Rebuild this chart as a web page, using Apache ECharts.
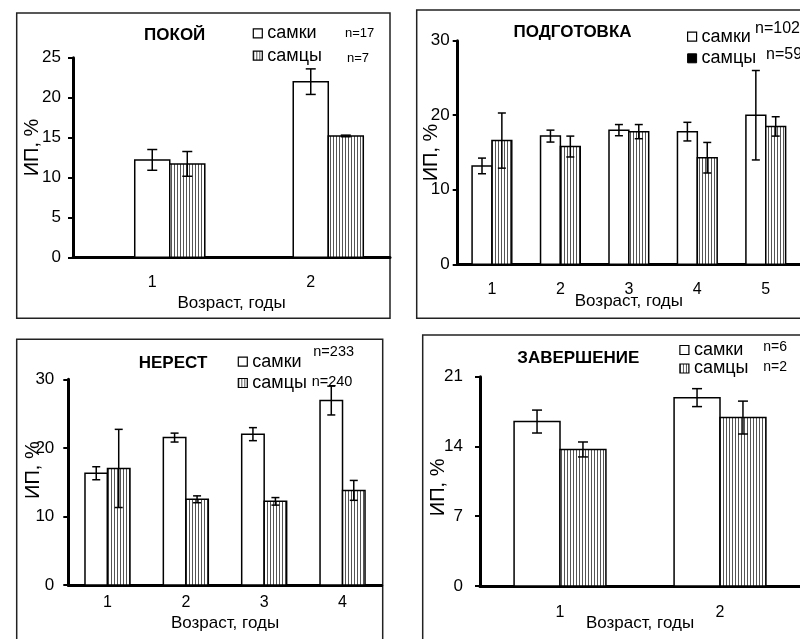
<!DOCTYPE html>
<html>
<head>
<meta charset="utf-8">
<script src="https://cdn.jsdelivr.net/npm/echarts@6/dist/echarts.min.js"></script>
<style>
  html, body { margin: 0; padding: 0; background: #fff; }
  #chart { width: 800px; height: 639px; }
</style>
</head>
<body>
<div id="chart"></div>
<script>
// ИП (%) по возрастным группам для четырёх стадий; среднее ± ошибка
const restAges = ['1', '2'];
const restFemale = [12.2, 22.0];
const restFemaleErr = [1.3, 1.6];
const restMale = [11.7, 15.2];
const restMaleErr = [1.55, 0.1];

const prepAges = ['1', '2', '3', '4', '5'];
const prepFemale = [13.2, 17.2, 18.0, 17.8, 20.0];
const prepFemaleErr = [1.05, 0.8, 0.75, 1.25, 6.0];
const prepMale = [16.6, 15.8, 17.8, 14.3, 18.5];
const prepMaleErr = [3.7, 1.4, 0.95, 2.05, 1.3];

const spawnAges = ['1', '2', '3', '4'];
const spawnFemale = [16.3, 21.5, 22.0, 26.9];
const spawnFemaleErr = [0.95, 0.65, 0.95, 2.1];
const spawnMale = [17.0, 12.5, 12.2, 13.8];
const spawnMaleErr = [5.7, 0.5, 0.55, 1.45];

const endAges = ['1', '2'];
const endFemale = [16.5, 18.9];
const endFemaleErr = [1.15, 0.9];
const endMale = [13.7, 16.9];
const endMaleErr = [0.75, 1.65];

// пределы шкал ИП: [min, max, шаг]
const restScale = [0, 25, 5];
const prepScale = [0, 30, 10];
const spawnScale = [0, 30, 10];
const endScale = [0, 21, 7];

const titles = ['ПОКОЙ', 'ПОДГОТОВКА', 'НЕРЕСТ', 'ЗАВЕРШЕНИЕ'];
const femaleCounts = ['n=17', 'n=102', 'n=233', 'n=6'];
const maleCounts = ['n=7', 'n=59', 'n=240', 'n=2'];

const FONT = '"Liberation Sans", Arial, sans-serif';

// вертикальная штриховка для самцов
function stripes() {
  const c = document.createElement('canvas');
  c.width = 3; c.height = 6;
  const g = c.getContext('2d');
  g.fillStyle = '#ffffff';
  g.fillRect(0, 0, 3, 6);
  g.fillStyle = '#555555';
  g.fillRect(0, 0, 1, 6);
  return { image: c, repeat: 'repeat' };
}
const hatch = stripes();

function rows(values, errs) {
  return values.map((v, i) => [i, v, errs[i]]);
}

// столбец + планка погрешности
function barRenderer(slot, shift, frac, cap, fill) {
  return function (params, api) {
    const idx = api.value(0), v = api.value(1), e = api.value(2);
    const band = api.size([1, 0])[0];
    const bw = band * frac;
    const base = api.coord([idx, 0]);
    const top = api.coord([idx, v]);
    const hi = api.coord([idx, v + e]);
    const lo = api.coord([idx, v - e]);
    const x = base[0] + (shift + slot) * bw;
    const mid = x + bw / 2;
    const ln = { stroke: '#000', lineWidth: 1.5 };
    return {
      type: 'group',
      children: [
        { type: 'rect', shape: { x: x, y: top[1], width: bw, height: base[1] - top[1] },
          style: { fill: fill, stroke: '#000', lineWidth: 1.5 } },
        { type: 'line', shape: { x1: mid, y1: hi[1], x2: mid, y2: lo[1] }, style: ln },
        { type: 'line', shape: { x1: mid - cap / 2, y1: hi[1], x2: mid + cap / 2, y2: hi[1] }, style: ln },
        { type: 'line', shape: { x1: mid - cap / 2, y1: lo[1], x2: mid + cap / 2, y2: lo[1] }, style: ln }
      ]
    };
  };
}

const panels = [
  { ages: restAges, f: rows(restFemale, restFemaleErr), m: rows(restMale, restMaleErr), scale: restScale,
    grid: { left: 73, top: 57.7, width: 317, height: 199.6 }, shift: -0.5, frac: 0.221, cap: 10,
    yLabelMargin: 12, yNameGap: 31, yNamePad: [0, 0, 0, 20], xLabelMargin: 17, xNameGap: 38 },
  { ages: prepAges, f: rows(prepFemale, prepFemaleErr), m: rows(prepMale, prepMaleErr), scale: prepScale,
    grid: { left: 457.7, top: 40.7, width: 356.5, height: 223.6 }, shift: -1, frac: 0.29, cap: 8,
    yLabelMargin: 8, yNameGap: 16, yNamePad: [0, 0, 0, 0], xLabelMargin: 17, xNameGap: 28.5 },
  { ages: spawnAges, f: rows(spawnFemale, spawnFemaleErr), m: rows(spawnMale, spawnMaleErr), scale: spawnScale,
    grid: { left: 68.3, top: 379.3, width: 313.4, height: 205.7 }, shift: -1, frac: 0.287, cap: 8,
    yLabelMargin: 14, yNameGap: 25, yNamePad: [0, 0, 0, 24], xLabelMargin: 10, xNameGap: 29.5 },
  { ages: endAges, f: rows(endFemale, endFemaleErr), m: rows(endMale, endMaleErr), scale: endScale,
    grid: { left: 480, top: 376.7, width: 332, height: 209.3 }, shift: -1, frac: 0.287, cap: 10,
    yLabelMargin: 17, yNameGap: 32, yNamePad: [0, 12, 0, 0], xLabelMargin: 19, xNameGap: 28.5 }
];

// рамки панелей
const frames = [
  { x: 16.7, y: 13, w: 373.3, h: 305.3 },
  { x: 416.7, y: 10, w: 400, h: 308.3 },
  { x: 16.7, y: 339.3, w: 366, h: 310 },
  { x: 422.7, y: 335, w: 400, h: 315 }
];

const titlePos = [[174.7, 35], [572.5, 32.7], [173, 363.3], [578.3, 358.3]];
// положение легенд и подписей численности
const legendPos = [
  { left: 252.7, top: 24.3, gap: 4.4, nf: [345, 33.3], nm: [347, 58.3], nSize: 13 },
  { left: 687, top: 27.7, gap: 3.6, nf: [755, 28.3], nm: [766, 55], nSize: 16 },
  { left: 237.7, top: 352.7, gap: 3.3, nf: [313.3, 351.7], nm: [311.7, 381.7], nSize: 14.5 },
  { left: 679.3, top: 341, gap: 0.5, nf: [763.3, 346.7], nm: [763.3, 366.7], nSize: 14 }
];

const axisLineStyle = { color: '#000', width: 3 };
const tickStyle = { color: '#000', width: 2 };

const option = {
  animation: false,
  backgroundColor: '#fff',
  textStyle: { fontFamily: FONT, color: '#000' },
  title: titles.map((t, i) => ({
    text: t, left: titlePos[i][0], top: titlePos[i][1] - 10, textAlign: 'center', padding: 0,
    textStyle: { fontFamily: FONT, fontSize: 17, fontWeight: 'bold', color: '#000', lineHeight: 20 }
  })),
  legend: panels.map((p, i) => ({
    orient: 'vertical', left: legendPos[i].left, top: legendPos[i].top, padding: 0,
    itemWidth: 9, itemHeight: 9, itemGap: legendPos[i].gap, icon: 'rect', selectedMode: false,
    textStyle: { fontFamily: FONT, fontSize: 18, lineHeight: 18, color: '#000' },
    data: [
      { name: 'самки', itemStyle: { color: '#fff', borderColor: '#000', borderWidth: 1.2 } },
      { name: 'самцы', itemStyle: i === 1 ? { color: '#000', borderColor: '#000', borderWidth: 1 }
                                          : { color: hatch, borderColor: '#000', borderWidth: 1.2 } }
    ]
  })),
  grid: panels.map(p => Object.assign({ containLabel: false }, p.grid)),
  xAxis: panels.map((p, i) => ({
    type: 'category', gridIndex: i, data: p.ages, boundaryGap: true,
    name: 'Возраст, годы', nameLocation: 'middle', nameGap: p.xNameGap, nameMoveOverlap: false,
    nameTextStyle: { fontFamily: FONT, fontSize: 17, color: '#000' },
    axisLine: { lineStyle: axisLineStyle },
    axisTick: { length: 5, lineStyle: tickStyle },
    axisLabel: { interval: 0, margin: p.xLabelMargin, fontFamily: FONT, fontSize: 16, color: '#000' },
    splitLine: { show: false }
  })),
  yAxis: panels.map((p, i) => ({
    type: 'value', gridIndex: i, min: p.scale[0], max: p.scale[1], interval: p.scale[2],
    name: 'ИП, %', nameLocation: 'middle', nameGap: p.yNameGap, nameMoveOverlap: false,
    nameTextStyle: { fontFamily: FONT, fontSize: 20, color: '#000', padding: p.yNamePad },
    axisLine: { show: true, lineStyle: axisLineStyle },
    axisTick: { show: true, length: 5, lineStyle: tickStyle },
    axisLabel: { margin: p.yLabelMargin, fontFamily: FONT, fontSize: 17, color: '#000' },
    splitLine: { show: false }
  })),
  series: panels.flatMap((p, i) => [
    { type: 'custom', name: 'самки', xAxisIndex: i, yAxisIndex: i, data: p.f,
      itemStyle: { color: '#fff', borderColor: '#000' },
      renderItem: barRenderer(0, p.shift, p.frac, p.cap, '#fff') },
    { type: 'custom', name: 'самцы', xAxisIndex: i, yAxisIndex: i, data: p.m,
      itemStyle: { color: hatch, borderColor: '#000' },
      renderItem: barRenderer(1, p.shift, p.frac, p.cap, hatch) }
  ]),
  graphic: [
    ...frames.map(f => ({
      type: 'rect', silent: true, z: -1,
      shape: { x: f.x, y: f.y, width: f.w, height: f.h },
      style: { fill: null, stroke: '#222', lineWidth: 1.5 }
    })),
    ...legendPos.flatMap((l, i) => [
      { type: 'text', x: l.nf[0], y: l.nf[1], silent: true,
        style: { text: femaleCounts[i], font: l.nSize + 'px ' + FONT, fill: '#000', verticalAlign: 'middle' } },
      { type: 'text', x: l.nm[0], y: l.nm[1], silent: true,
        style: { text: maleCounts[i], font: l.nSize + 'px ' + FONT, fill: '#000', verticalAlign: 'middle' } }
    ])
  ]
};

const chart = echarts.init(document.getElementById('chart'), null, { renderer: 'canvas' });
chart.setOption(option);
</script>
</body>
</html>
